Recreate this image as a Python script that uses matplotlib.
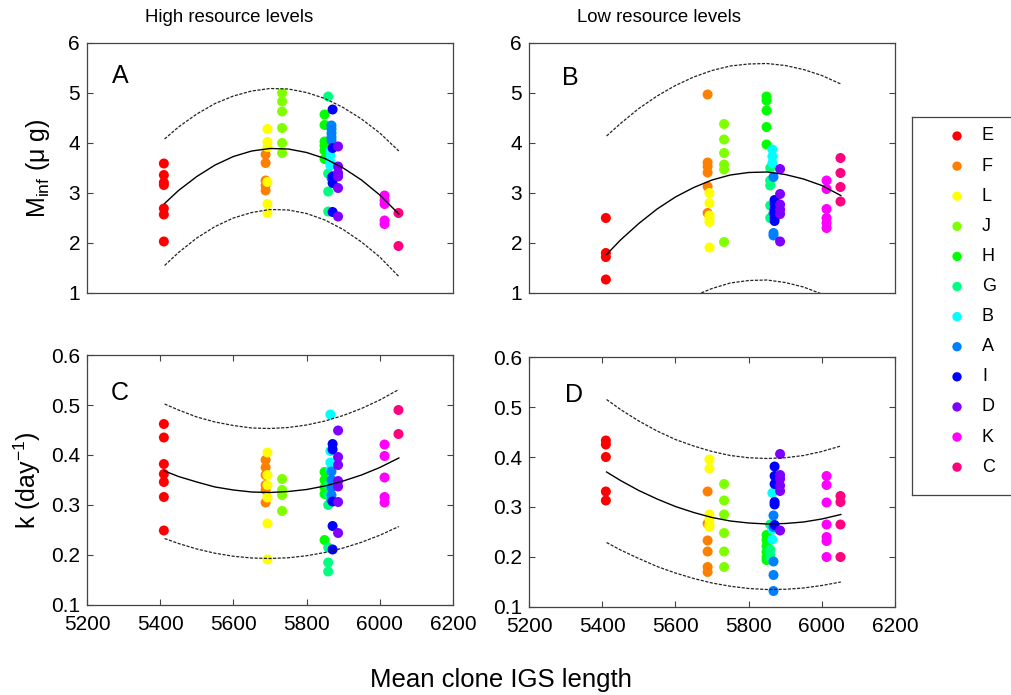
import matplotlib
matplotlib.use('Agg')
import matplotlib.pyplot as plt

plt.rcParams['font.family'] = ['Liberation Sans', 'DejaVu Sans']
plt.rcParams['mathtext.fontset'] = 'custom'
plt.rcParams['mathtext.rm'] = 'Liberation Sans'

# clones, in legend order
clones = ['E', 'F', 'L', 'J', 'H', 'G', 'B', 'A', 'I', 'D', 'K', 'C']
clone_colors = ['#ff0000', '#ff8000', '#ffff00', '#80ff00', '#00ff00', '#00ff80',
                '#00ffff', '#0080ff', '#0000ff', '#8000ff', '#ff00ff', '#ff0080']
# mean IGS length of each clone
clone_x = [5410, 5688, 5693, 5733, 5849, 5859, 5865, 5868, 5871, 5886, 6013, 6051]

# A: M_inf, high resources
mass_high = [
    [3.59, 3.36, 3.21, 3.16, 2.69, 2.57, 2.03],
    [3.77, 3.6, 3.25, 3.15, 3.05],
    [4.28, 4.02, 3.92, 3.22, 2.78, 2.6],
    [5.0, 4.83, 4.63, 4.3, 4.0, 3.8],
    [4.57, 4.36, 4.03, 3.95, 3.85, 3.68],
    [4.93, 3.39, 3.03, 2.63],
    [3.85, 3.75, 3.62, 3.55],
    [4.35, 4.28, 4.2, 4.12, 4.05, 3.3],
    [4.67, 3.9, 3.33, 3.2, 2.62],
    [3.93, 3.53, 3.4, 3.33, 3.1, 2.53],
    [2.95, 2.85, 2.78, 2.45, 2.38],
    [2.6, 1.94],
]
# B: M_inf, low resources
mass_low = [
    [2.5, 1.8, 1.72, 1.27],
    [4.97, 3.61, 3.53, 3.41, 3.13, 2.6],
    [3.0, 2.8, 2.55, 2.48, 2.42, 1.91],
    [4.38, 4.07, 3.8, 3.57, 3.47, 2.02],
    [4.93, 4.85, 4.65, 4.32, 3.97],
    [3.5, 3.25, 3.15, 2.75, 2.5],
    [3.87, 3.73, 3.6],
    [3.32, 2.6, 2.2, 2.15],
    [2.86, 2.78, 2.68, 2.58, 2.5, 2.44],
    [3.48, 2.98, 2.77, 2.67, 2.58, 2.03],
    [3.25, 3.08, 2.68, 2.5, 2.4, 2.3],
    [3.7, 3.4, 3.12, 2.83],
]
# C: k, high resources
k_high = [
    [0.462, 0.435, 0.382, 0.362, 0.346, 0.316, 0.249],
    [0.39, 0.375, 0.36, 0.34, 0.33, 0.305],
    [0.405, 0.36, 0.34, 0.315, 0.263, 0.191],
    [0.352, 0.33, 0.32, 0.288],
    [0.366, 0.35, 0.335, 0.322, 0.23],
    [0.34, 0.32, 0.30, 0.215, 0.185, 0.167],
    [0.481, 0.408, 0.385, 0.37],
    [0.367, 0.35, 0.335, 0.32, 0.31],
    [0.422, 0.411, 0.307, 0.258, 0.211],
    [0.449, 0.396, 0.38, 0.348, 0.337, 0.306, 0.244],
    [0.421, 0.398, 0.355, 0.316, 0.305],
    [0.49, 0.442],
]
# D: k, low resources
k_low = [
    [0.433, 0.425, 0.4, 0.331, 0.313],
    [0.331, 0.267, 0.233, 0.211, 0.18, 0.17],
    [0.395, 0.377, 0.285, 0.275, 0.265, 0.26],
    [0.346, 0.313, 0.285, 0.248, 0.211, 0.18],
    [0.244, 0.234, 0.222, 0.21, 0.2, 0.194],
    [0.265, 0.215, 0.205, 0.2],
    [0.328, 0.255, 0.235],
    [0.283, 0.26, 0.191, 0.164, 0.132],
    [0.381, 0.362, 0.346, 0.31, 0.305, 0.264],
    [0.406, 0.364, 0.356, 0.343, 0.332, 0.253],
    [0.362, 0.344, 0.309, 0.265, 0.24, 0.232, 0.2],
    [0.322, 0.31, 0.265, 0.2],
]

# fitted curve and prediction band
curve_x = [5412, 5450, 5500, 5550, 5600, 5650, 5700, 5750, 5800, 5850, 5900, 5950, 6000, 6052]
fit_A = [2.79, 3.05, 3.33, 3.56, 3.73, 3.84, 3.89, 3.88, 3.81, 3.69, 3.50, 3.26, 2.96, 2.58]
up_A = [4.08, 4.32, 4.58, 4.79, 4.94, 5.04, 5.09, 5.08, 5.01, 4.89, 4.71, 4.48, 4.20, 3.84]
lo_A = [1.55, 1.81, 2.10, 2.33, 2.50, 2.61, 2.67, 2.66, 2.59, 2.46, 2.27, 2.02, 1.72, 1.33]
fit_B = [1.77, 2.06, 2.39, 2.68, 2.92, 3.11, 3.26, 3.36, 3.41, 3.42, 3.37, 3.28, 3.15, 2.95]
up_B = [4.14, 4.39, 4.69, 4.94, 5.15, 5.32, 5.45, 5.54, 5.58, 5.59, 5.55, 5.47, 5.35, 5.18]
lo_B = [-0.45, -0.16, 0.19, 0.49, 0.74, 0.94, 1.09, 1.20, 1.25, 1.26, 1.21, 1.12, 0.98, 0.78]
fit_C = [0.368, 0.357, 0.346, 0.336, 0.330, 0.326, 0.325, 0.327, 0.331, 0.338, 0.348, 0.360, 0.375, 0.394]
up_C = [0.502, 0.490, 0.476, 0.466, 0.459, 0.454, 0.453, 0.455, 0.460, 0.468, 0.479, 0.493, 0.510, 0.531]
lo_C = [0.233, 0.223, 0.212, 0.2035, 0.1975, 0.194, 0.193, 0.1945, 0.1985, 0.205, 0.214, 0.2255, 0.2395, 0.257]
fit_D = [0.370, 0.353, 0.333, 0.316, 0.301, 0.289, 0.279, 0.272, 0.268, 0.266, 0.267, 0.270, 0.276, 0.285]
up_D = [0.515, 0.495, 0.472, 0.452, 0.435, 0.422, 0.411, 0.403, 0.3985, 0.397, 0.3985, 0.403, 0.411, 0.422]
lo_D = [0.229, 0.214, 0.197, 0.181, 0.168, 0.157, 0.148, 0.1415, 0.137, 0.135, 0.1354, 0.138, 0.143, 0.150]

W, H = 1012, 695
fig = plt.figure(figsize=(W / 100, H / 100), dpi=100)


def make_axes(left, top, bottom):
    return fig.add_axes([left / W, 1 - bottom / H, 366 / W, (bottom - top) / H])


panels = [
    (make_axes(87, 43, 293), mass_high, fit_A, up_A, lo_A, 'A', (0.068, 0.84)),
    (make_axes(529, 43, 293), mass_low, fit_B, up_B, lo_B, 'B', (0.09, 0.832)),
    (make_axes(87, 355, 605), k_high, fit_C, up_C, lo_C, 'C', (0.065, 0.82)),
    (make_axes(529, 357, 607), k_low, fit_D, up_D, lo_D, 'D', (0.098, 0.82)),
]

dash = (0, (2.5, 1.2))
for i, (ax, vals, fit, up, lo, letter, pos) in enumerate(panels):
    for c in range(len(clones)):
        ax.scatter([clone_x[c]] * len(vals[c]), vals[c], s=52, color=clone_colors[c],
                   edgecolors='none', zorder=3)
    ax.plot(curve_x, fit, color='black', lw=1.0, zorder=4)
    ax.plot(curve_x, up, color='#222222', lw=0.9, ls=dash, zorder=4)
    ax.plot(curve_x, lo, color='#222222', lw=0.9, ls=dash, zorder=4)
    ax.set_xlim(5200, 6200)
    ax.text(pos[0], pos[1], letter, transform=ax.transAxes, fontsize=18, va='baseline')
    for sp in ax.spines.values():
        sp.set_color('#444444')
        sp.set_linewidth(0.9)
    ax.tick_params(direction='in', length=4, width=0.8, color='#444444',
                   labelsize=15, right=True, pad=5)
    if i < 2:
        ax.set_ylim(1, 6)
        ax.set_yticks([1, 2, 3, 4, 5, 6])
        ax.set_xticks([])
    else:
        ax.set_ylim(0.1, 0.6)
        ax.set_yticks([0.1, 0.2, 0.3, 0.4, 0.5, 0.6])
        ax.set_yticklabels(['0.1', '0.2', '0.3', '0.4', '0.5', '0.6'])
        ax.set_xticks([5200, 5400, 5600, 5800, 6000, 6200])
        ax.tick_params(axis='x', top=True, pad=7)

panels[0][0].set_ylabel(r'M$_{\mathregular{inf}}$ ($\mathregular{\mu}$ g)', fontsize=18)
panels[0][0].yaxis.set_label_coords(-0.096, 0.5)
panels[2][0].set_ylabel(r'k (day$^{\mathregular{-1}}$)', fontsize=18)
panels[2][0].yaxis.set_label_coords(-0.12, 0.5)

fig.text(229 / W, 1 - 18 / H, 'High resource levels', fontsize=13.4, ha='center', va='center')
fig.text(659 / W, 1 - 18 / H, 'Low resource levels', fontsize=13.4, ha='center', va='center')
fig.text(501 / W, 1 - 680 / H, 'Mean clone IGS length', fontsize=18.5, ha='center', va='center')

# legend box, drawn by hand so it runs off the right edge like the original
leg = fig.add_axes([912 / W, 1 - 495 / H, 200 / W, 378 / H])
leg.set_xlim(0, 200)
leg.set_ylim(378, 0)
leg.set_xticks([])
leg.set_yticks([])
for sp in leg.spines.values():
    sp.set_color('#444444')
    sp.set_linewidth(0.9)
for c in range(len(clones)):
    yy = 19 + 30.1 * c
    leg.scatter([45], [yy], s=45, color=clone_colors[c], edgecolors='none')
    leg.text(70, yy, clones[c], fontsize=13, va='center')

fig.savefig('out.png', dpi=100)
